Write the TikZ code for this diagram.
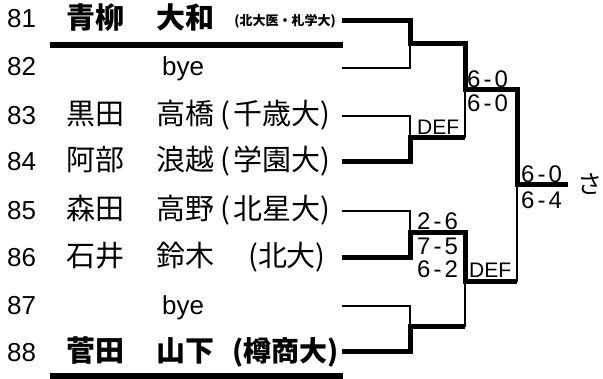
\documentclass[tikz,border=0pt]{standalone}
\usepackage{fontspec}
\setmainfont{Liberation Sans}
\newfontfamily\cjk{Noto Sans CJK JP}
\begin{document}
\begin{tikzpicture}[x=1pt,y=-1pt]
\tikzset{
  num/.style={anchor=base west, inner sep=0pt, font=\fontsize{26}{26}\selectfont},
  jp/.style={anchor=base west, inner sep=0pt, font=\cjk\fontsize{29}{29}\selectfont},
  jpb/.style={anchor=base west, inner sep=0pt, font=\cjk\bfseries\fontsize{29}{29}\selectfont},
  affr/.style={anchor=base east, inner sep=0pt, font=\cjk\fontsize{29}{29}\selectfont},
  affb/.style={anchor=base east, inner sep=0pt, font=\cjk\bfseries\fontsize{28}{28}\selectfont},
  affs/.style={anchor=base east, inner sep=0pt, font=\cjk\bfseries\fontsize{13}{13}\selectfont},
  score/.style={anchor=base west, inner sep=0pt, font=\fontsize{24}{24}\selectfont},
  def/.style={anchor=base west, inner sep=0pt, font=\fontsize{21}{21}\selectfont},
  win/.style={line width=5pt, line join=miter},
  lose/.style={line width=2pt, line join=miter},
  rule/.style={line width=6pt}
}
\useasboundingbox (0,0) rectangle (603,379);
% ---- texts
\node[num] (n81) at (7,28) {81};
\node[jpb] (s81) at (66,29) {青柳};
\node[jpb] (g81) at (156,29) {大和};
\node[affs] (a81) at (336,26) {(北大医・札学大)};
\node[num] (n82) at (7,76) {82};
\node[num] (b82) at (162,76) {bye};
\node[num] (n83) at (7,125) {83};
\node[jp] (s83) at (66,125) {黒田};
\node[jp] (g83) at (156,125) {高橋};
\node[affr] (a83) at (331,125) {(\kern4pt千歳大)};
\node[num] (n84) at (7,171) {84};
\node[jp] (s84) at (66,171) {阿部};
\node[jp] (g84) at (156,171) {浪越};
\node[affr] (a84) at (331,171) {(\kern4pt学園大)};
\node[num] (n85) at (7,220) {85};
\node[jp] (s85) at (66,220) {森田};
\node[jp] (g85) at (156,220) {高野};
\node[affr] (a85) at (331,220) {(\kern4pt北星大)};
\node[num] (n86) at (7,267) {86};
\node[jp] (s86) at (66,267) {石井};
\node[jp] (g86) at (156,267) {鈴木};
\node[affr] (a86) at (326,267) {(北大)};
\node[num] (n87) at (7,315) {87};
\node[num] (b87) at (162,315) {bye};
\node[num] (n88) at (7,362) {88};
\node[jpb] (s88) at (66,362) {菅田};
\node[jpb] (g88) at (156,362) {山下};
\node[affb] (a88) at (339,362) {(樽商大)};
% ---- rules under seeded players
\coordinate (u1l) at (50,45);  \coordinate (u1r) at (343,45);
\coordinate (u2l) at (50,376); \coordinate (u2r) at (343,376);
\draw[rule] (u1l) -- (u1r);
\draw[rule] (u2l) -- (u2r);
% ---- coordinates of bracket
\foreach \r/\y in {81/21,82/68,83/116,84/162,85/211,86/258,87/306,88/352}{
  \coordinate (L\r) at (342,\y);
  \coordinate (M\r) at (410,\y);
}
\coordinate (A1) at (410,44);  \coordinate (A2) at (465,44);
\coordinate (B1) at (410,138); \coordinate (B2) at (465,138);
\coordinate (C1) at (410,233); \coordinate (C2) at (465,233);
\coordinate (D1) at (410,327); \coordinate (D2) at (465,327);
\coordinate (E1) at (465,90);  \coordinate (E2) at (517,90);
\coordinate (F1) at (465,282); \coordinate (F2) at (517,282);
\coordinate (G1) at (517,185); \coordinate (G2) at (568,185);
% ---- losers (thin)
\draw[lose] (L82) -- (M82) -- (A1);
\draw[lose] (L83) -- (M83) -- (B1);
\draw[lose] (L85) -- (M85) -- (C1);
\draw[lose] (L87) -- (M87) -- (D1);
\draw[lose] (B2) -- (E1);
\draw[lose] (D2) -- (F1);
\draw[lose] (F2) -- (G1);
% ---- winners (thick)
\draw[win] (L81) -- (M81) -- (A1) -- (A2) -- (E1) -- (E2) -- (G1) -- (G2);
\draw[win] (L84) -- (M84) -- (B1) -- (B2);
\draw[win] (L86) -- (M86) -- (C1) -- (C2) -- (F1) -- (F2);
\draw[win] (L88) -- (M88) -- (D1) -- (D2);
% ---- scores
\node[def] (sB) at (417,135) {DEF};
\node[score] (sC1) at (417,230) {2\kern3pt-\kern3pt6};
\node[score] (sC2) at (417,255) {7\kern3pt-\kern3pt5};
\node[score] (sC3) at (417,278) {6\kern3pt-\kern3pt2};
\node[score] (sE1) at (467,88) {6\kern3pt-\kern3pt0};
\node[score] (sE2) at (467,112) {6\kern3pt-\kern3pt0};
\node[def] (sF) at (469,278) {DEF};
\node[score] (sG1) at (521,183) {6\kern3pt-\kern3pt0};
\node[score] (sG2) at (521,209) {6\kern3pt-\kern3pt4};
\node[anchor=base west, inner sep=0pt, font=\cjk\fontsize{25}{25}\selectfont] (champ) at (577,194) {さ};
\end{tikzpicture}
\end{document}
